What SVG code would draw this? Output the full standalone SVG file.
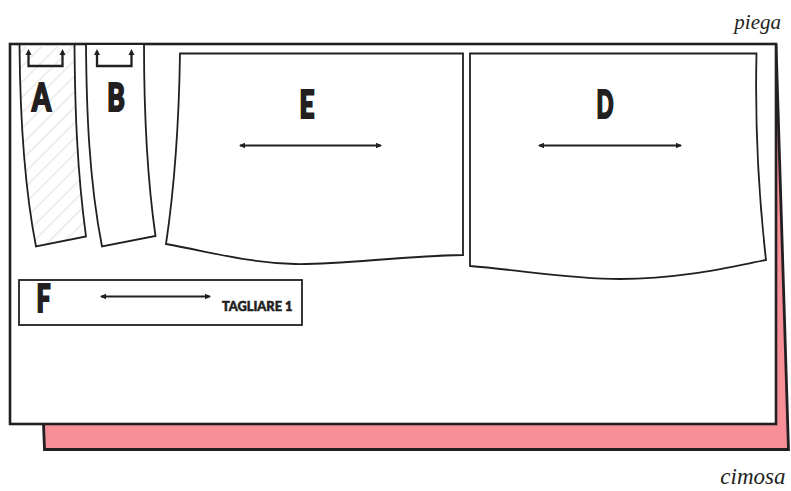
<svg xmlns="http://www.w3.org/2000/svg" width="791" height="491" viewBox="0 0 791 491">
<style>
.sheet{fill:#fff;stroke:#231f20;stroke-width:2.6;stroke-linejoin:miter}
.piece{fill:#fff;stroke:#231f20;stroke-width:1.8;stroke-linejoin:miter}
.lab{font-family:Lato,"Liberation Sans",sans-serif;font-weight:900;fill:#231f20;stroke:#231f20;stroke-width:2.2;font-size:38px;text-anchor:middle}
.small{font-family:Lato,"Liberation Sans",sans-serif;font-weight:900;fill:#231f20;stroke:#231f20;stroke-width:.55;font-size:13.5px}
.it{font-family:"Liberation Serif",serif;font-style:italic;fill:#231f20}
.grain{fill:none;stroke:#231f20;stroke-width:2.2;marker-start:url(#headL);marker-end:url(#headR)}
.fold{fill:none;stroke:#231f20;stroke-width:2.3;marker-start:url(#up);marker-end:url(#up)}
</style>
<defs>
<marker id="headR" markerUnits="userSpaceOnUse" markerWidth="7" markerHeight="7" refX="5" refY="3.5" orient="0"><path d="M0 0.8L6 3.5L0 6.2Z" fill="#231f20"/></marker>
<marker id="headL" markerUnits="userSpaceOnUse" markerWidth="7" markerHeight="7" refX="2" refY="3.5" orient="0"><path d="M7 0.8L1 3.5L7 6.2Z" fill="#231f20"/></marker>
<marker id="up" markerUnits="userSpaceOnUse" markerWidth="8" markerHeight="8" refX="4" refY="3" orient="0"><path d="M4 0L7 6H1Z" fill="#231f20"/></marker>
<pattern id="hatch" patternUnits="userSpaceOnUse" width="11" height="11" patternTransform="rotate(-45 20 40)"><line x1="0" y1="5" x2="11" y2="5" stroke="#d6d4d4" stroke-width="0.8"/></pattern>
</defs>
<g id="sheet-back">
<path d="M43 424L44.500 449.500L788.500 449.500L776 44Z" fill="#f78f99"/>
<path d="M43.500 424L44.500 449.500L788.500 449.500L776 44" fill="none" stroke="#231f20" stroke-width="2.8"/>
</g>
<g id="sheet-front"><rect class="sheet" x="10" y="44" width="766" height="380"/></g>
<g id="piece-A">
<path class="piece" style="fill:url(#hatch)" d="M19.500 44C20 110 23 180 36 246.500L86 236.500C77 170 75 110 74.500 44Z"/>
<path class="fold" d="M28.500 52V66H62.500V52"/>
<text class="lab" x="41.500" y="111" textLength="19" lengthAdjust="spacingAndGlyphs">A</text>
</g>
<g id="piece-B">
<path class="piece" d="M86 44C86.500 110 89 180 102 246.500L155.500 236C146 170 144 110 144 44Z"/>
<path class="fold" d="M97 52V66H131.500V52"/>
<text class="lab" x="116" y="111" textLength="17.500" lengthAdjust="spacingAndGlyphs">B</text>
</g>
<g id="piece-E">
<path class="piece" d="M180 53.500H463V255C400 256 340 265 295 264C250 263 215 253 166 244C174 190 179 120 180 53.500Z"/>
<text class="lab" x="307" y="117.500" textLength="15" lengthAdjust="spacingAndGlyphs">E</text>
<path class="grain" d="M240 145.500H381"/>
</g>
<g id="piece-D">
<path class="piece" d="M470 53.500H756.500C755 120 758 190 766 260C730 267 680 279 620 279C570 279 520 270 470 266Z"/>
<text class="lab" x="605" y="117.500" textLength="17" lengthAdjust="spacingAndGlyphs">D</text>
<path class="grain" d="M539 145.500H681"/>
</g>
<g id="piece-F">
<rect class="piece" x="19" y="280" width="283" height="45"/>
<text class="lab" x="43.500" y="312" textLength="14" lengthAdjust="spacingAndGlyphs">F</text>
<path class="grain" d="M101 296.500H210"/>
<text class="small" x="222" y="311" textLength="70.500" lengthAdjust="spacingAndGlyphs">TAGLIARE 1</text>
</g>
<text class="it" x="781" y="29" text-anchor="end" font-size="21">piega</text>
<text class="it" x="785.500" y="484" text-anchor="end" font-size="23">cimosa</text>
</svg>
